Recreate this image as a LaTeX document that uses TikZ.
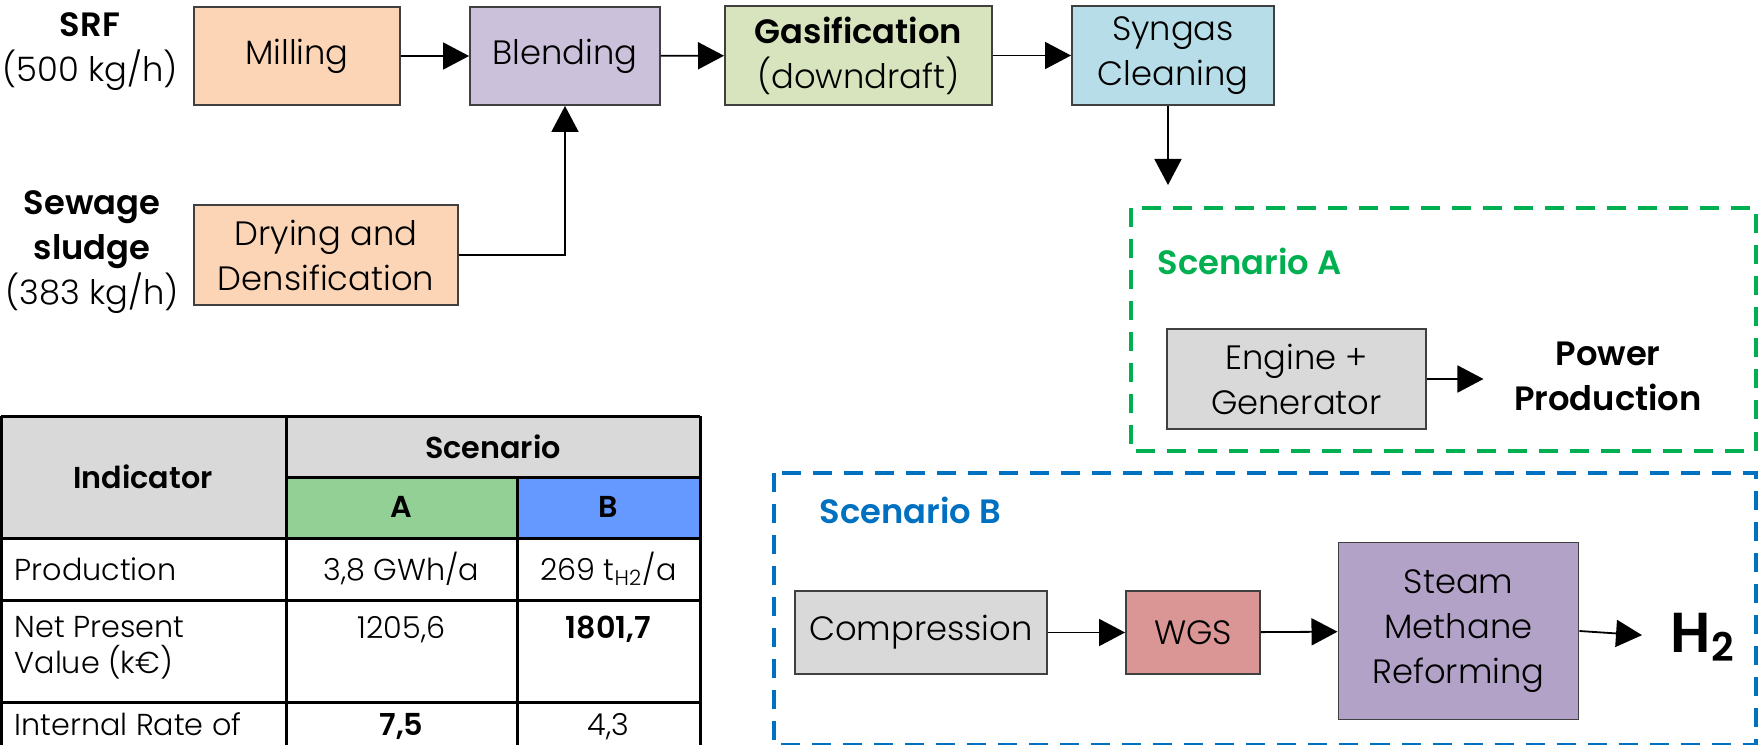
\documentclass[tikz,border=0pt]{standalone}
\usepackage{fontspec}
\setmainfont{Poppins}[UprightFont=* Light, BoldFont=* SemiBold]
\usepackage{xcolor}
\usepackage{tikz}
\usetikzlibrary{arrows.meta,positioning,calc}

\definecolor{peach}{HTML}{FBD5B5}
\definecolor{lavender}{HTML}{CCC1DA}
\definecolor{olive}{HTML}{D7E4BD}
\definecolor{aqua}{HTML}{B7DDE8}
\definecolor{lightgray}{HTML}{D9D9D9}
\definecolor{wgsred}{HTML}{D99694}
\definecolor{smrpurple}{HTML}{B2A2C7}
\definecolor{scengreen}{HTML}{00B050}
\definecolor{scenblue}{HTML}{0070C0}
\definecolor{cellA}{HTML}{92D096}
\definecolor{cellB}{HTML}{6699FF}

\newcommand{\boxfont}{\fontsize{9.6}{12.8}\selectfont}
\newcommand{\tabfont}{\fontsize{8.6}{10}\selectfont}
\newcommand{\bigfont}{\fontsize{16}{18}\selectfont}

\begin{document}
\begin{tikzpicture}[x=0.01cm, y=-0.01cm,
    process/.style={rectangle, draw=black!75, line width=0.018cm, inner sep=0pt, align=center, font=\boxfont},
    flow/.style={-{Triangle[length=0.26cm, width=0.27cm]}, line width=0.018cm, black},
    scenario/.style={dash pattern=on 0.19cm off 0.12cm, line width=0.04cm},
    feed/.style={align=center, font=\boxfont},
    cell/.style={font=\tabfont, inner sep=0pt},
    grid_line/.style={line width=0.03cm, black}
]
\useasboundingbox (0,0) rectangle (1759,745);

% --- Feedstocks ---
\node[feed] (srf) at (90,52) {\textbf{SRF}\\(500 kg/h)};
\node[feed] (sludge) at (92,252) {\textbf{Sewage}\\\textbf{sludge}\\(383 kg/h)};

% --- Main line ---
\node[process, fill=peach, minimum width=2.06cm, minimum height=0.98cm] (milling) at (297,56) {Milling};
\node[process, fill=lavender, minimum width=1.90cm, minimum height=0.98cm] (blending) at (565,56) {Blending};
\node[process, fill=olive, minimum width=2.67cm, minimum height=0.99cm] (gasif) at (858.5,55.5) {\textbf{Gasification}\\(downdraft)};
\node[process, fill=aqua, minimum width=2.02cm, minimum height=0.99cm] (syngas) at (1173,55.5) {Syngas\\Cleaning};
\node[process, fill=peach, minimum width=2.64cm, minimum height=1.00cm] (drying) at (326,255) {Drying and\\Densification};

\draw[flow] (milling) -- (blending);
\draw[flow] (blending) -- (gasif);
\draw[flow] (gasif) -- (syngas);
\draw[flow] (drying.east) -| (blending.south);

\coordinate (split) at (1168,185);
\draw[flow] (syngas.south -| split) -- (split);

% --- Scenario A ---
\draw[scenario, draw=scengreen] (1131,208) rectangle (1756,451);
\node[anchor=base west, font=\boxfont\bfseries, text=scengreen, inner sep=0pt] (labelA) at (1157,274) {Scenario A};
\node[process, fill=lightgray, minimum width=2.59cm, minimum height=1.00cm] (engine) at (1296.5,379) {Engine +\\Generator};
\node[feed, font=\boxfont\bfseries, inner sep=0pt] (power) at (1608,376) {Power\\Production};
\draw[flow, shorten >=0.30cm] (engine) -- (engine -| power.west);

% --- Scenario B ---
\draw[scenario, draw=scenblue] (774,473) rectangle (1756,745);
\node[anchor=base west, font=\boxfont\bfseries, text=scenblue, inner sep=0pt] (labelB) at (819,523) {Scenario B};
\node[process, fill=lightgray, minimum width=2.52cm, minimum height=0.83cm] (compr) at (921,632.5) {Compression};
\node[process, fill=wgsred, minimum width=1.34cm, minimum height=0.83cm] (wgs) at (1193,632.5) {WGS};
\node[process, fill=smrpurple, minimum width=2.40cm, minimum height=1.77cm] (smr) at (1458.5,631) {Steam\\Methane\\Reforming};
\node[font=\bigfont\bfseries, inner sep=0pt, anchor=west] (h2) at (1670,637) {H\textsubscript{2}};

\draw[flow] (compr) -- (wgs);
\draw[flow] (wgs) -- (smr);
\draw[flow, shorten >=0.28cm] (smr.east) -- (h2.west);

% --- Results table ---
\fill[lightgray] (0,416) rectangle (700,538);
\fill[cellA] (286,477) rectangle (517,538);
\fill[cellB] (517,477) rectangle (700,538);
\foreach \y in {416,538,600,702} {
    \draw[grid_line] (1.5,\y) -- (700,\y);
}
\draw[grid_line] (286,477) -- (700,477);
\draw[grid_line] (1.5,416) -- (1.5,745);
\draw[grid_line] (286,416) -- (286,745);
\draw[grid_line] (517,477) -- (517,745);
\draw[grid_line] (700,416) -- (700,745);

\node[cell, font=\tabfont\bfseries] (indicator) at (143,477) {Indicator};
\node[cell, font=\tabfont\bfseries] (scenario) at (493,447) {Scenario};
\node[cell, font=\tabfont\bfseries] (colA) at (401.5,507) {A};
\node[cell, font=\tabfont\bfseries] (colB) at (608.5,507) {B};

\node[cell, anchor=west] (prod) at (14,569) {Production};
\node[cell] (prodA) at (401.5,569) {3,8 GWh/a};
\node[cell] (prodB) at (608.5,569) {269 t\textsubscript{H2}/a};

\node[cell, anchor=north west, align=left] (npv) at (14,616) {Net Present\\Value (k€)};
\node[cell, anchor=base] (npvA) at (401.5,638) {1205,6};
\node[cell, anchor=base] (npvB) at (608.5,638) {\textbf{1801,7}};

\node[cell, anchor=base west] (irr) at (14,735) {Internal Rate of};
\node[cell, anchor=base] (irrA) at (401.5,735) {\textbf{7,5}};
\node[cell, anchor=base] (irrB) at (608.5,735) {4,3};

\end{tikzpicture}
\end{document}
